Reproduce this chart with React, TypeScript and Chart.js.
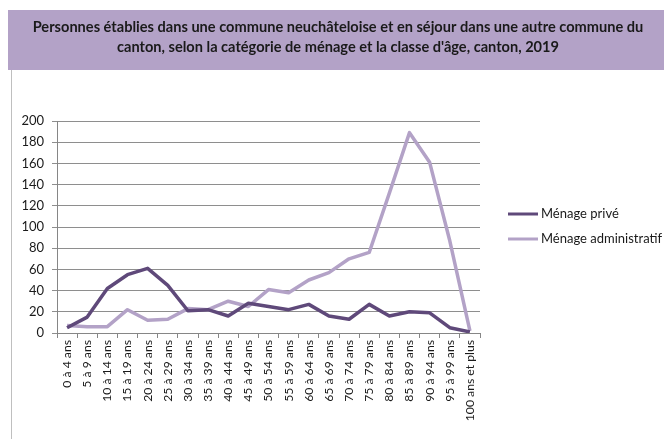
import React, { useEffect, useRef } from 'react';
import { Chart, registerables } from 'chart.js';

Chart.register(...registerables);

const TITLE_LINES = [
  'Personnes établies dans une commune neuchâteloise et en séjour dans une autre commune du',
  "canton, selon la catégorie de ménage et la classe d'âge, canton, 2019",
];

const CATEGORIES = [
  '0 à 4 ans', '5 à 9 ans', '10 à 14 ans', '15 à 19 ans', '20 à 24 ans', '25 à 29 ans',
  '30 à 34 ans', '35 à 39 ans', '40 à 44 ans', '45 à 49 ans', '50 à 54 ans', '55 à 59 ans',
  '60 à 64 ans', '65 à 69 ans', '70 à 74 ans', '75 à 79 ans', '80 à 84 ans', '85 à 89 ans',
  '90 à 94 ans', '95 à 99 ans', '100 ans et plus',
];

const SERIES_NAMES = ['Ménage privé', 'Ménage administratif'];

const MENAGE_PRIVE = [5, 15, 42, 55, 61, 45, 21, 22, 16, 28, 25, 22, 27, 16, 13, 27, 16, 20, 19, 5, 1];
const MENAGE_ADMIN = [7, 6, 6, 22, 12, 13, 23, 22, 30, 25, 41, 38, 50, 57, 70, 76, 132, 189, 161, 87, 2];

const Y_MIN = 0;
const Y_MAX = 200;
const Y_STEP = 20;

const COLORS = ['#5F497A', '#B3A2C7'];
const BAND = '#B3A2C7';
const FONT = 'Lato, "Liberation Sans", Arial, sans-serif';

const decorPlugin = {
  id: 'decor',
  beforeDraw(chart: any) {
    const { ctx, width, height } = chart;
    ctx.save();
    ctx.fillStyle = '#ffffff';
    ctx.fillRect(0, 0, width, height);
    ctx.fillStyle = BAND;
    ctx.fillRect(8, 10, width - 8, 60);
    ctx.strokeStyle = '#BFBFBF';
    ctx.lineWidth = 1;
    ctx.beginPath();
    ctx.moveTo(11.5, 70);
    ctx.lineTo(11.5, height);
    ctx.stroke();
    ctx.fillStyle = '#1a1a1a';
    ctx.font = 'bold 14.6px ' + FONT;
    ctx.textAlign = 'center';
    ctx.textBaseline = 'middle';
    TITLE_LINES.forEach((line, i) => {
      ctx.fillText(line, 338, 27 + i * 20);
    });
    ctx.restore();
  },
  afterDraw(chart: any) {
    const { ctx } = chart;
    ctx.save();
    ctx.font = '13px ' + FONT;
    ctx.textAlign = 'left';
    ctx.textBaseline = 'middle';
    chart.data.datasets.forEach((ds: any, i: number) => {
      const y = 214 + i * 25;
      ctx.strokeStyle = ds.borderColor;
      ctx.lineWidth = 3;
      ctx.beginPath();
      ctx.moveTo(508, y);
      ctx.lineTo(538, y);
      ctx.stroke();
      ctx.fillStyle = '#1a1a1a';
      ctx.fillText(ds.label, 541, y);
    });
    ctx.restore();
  },
};

export default function App() {
  const ref = useRef<HTMLCanvasElement | null>(null);

  useEffect(() => {
    if (!ref.current) return;
    const chart = new Chart(ref.current, {
      type: 'line',
      data: {
        labels: CATEGORIES,
        datasets: [
          {
            label: SERIES_NAMES[0],
            data: MENAGE_PRIVE,
            borderColor: COLORS[0],
            backgroundColor: COLORS[0],
            borderWidth: 3.5,
            pointRadius: 0,
            tension: 0,
            borderJoinStyle: 'round',
          },
          {
            label: SERIES_NAMES[1],
            data: MENAGE_ADMIN,
            borderColor: COLORS[1],
            backgroundColor: COLORS[1],
            borderWidth: 3.5,
            pointRadius: 0,
            tension: 0,
            borderJoinStyle: 'round',
          },
        ],
      },
      options: {
        animation: false,
        responsive: false,
        layout: { padding: { left: 12, top: 121, right: 184, bottom: 0 } },
        plugins: {
          legend: { display: false },
          title: { display: false },
          tooltip: { enabled: false },
        },
        scales: {
          x: {
            type: 'category',
            offset: true,
            grid: {
              display: true,
              offset: true,
              drawOnChartArea: false,
              drawTicks: true,
              tickLength: 5,
              color: '#868686',
            },
            border: { display: true, color: '#868686' },
            ticks: {
              autoSkip: false,
              maxRotation: 90,
              minRotation: 90,
              padding: 2,
              color: '#1a1a1a',
              font: { family: FONT, size: 12.2 },
            },
            afterFit: (s: any) => {
              s.height = 106;
            },
          },
          y: {
            min: Y_MIN,
            max: Y_MAX,
            ticks: {
              stepSize: Y_STEP,
              padding: 8,
              color: '#1a1a1a',
              font: { family: FONT, size: 13 },
            },
            grid: {
              color: '#8E8E8E',
              tickLength: 5,
            },
            border: { display: true, color: '#868686' },
            afterFit: (s: any) => {
              s.width = 45;
            },
          },
        },
      },
      plugins: [decorPlugin],
    });
    return () => chart.destroy();
  }, []);

  return (
    <div style={{ position: 'fixed', left: 0, top: 0, width: 664, height: 439 }}>
      <canvas ref={ref} width={664} height={439} style={{ display: 'block', width: 664, height: 439 }} />
    </div>
  );
}
